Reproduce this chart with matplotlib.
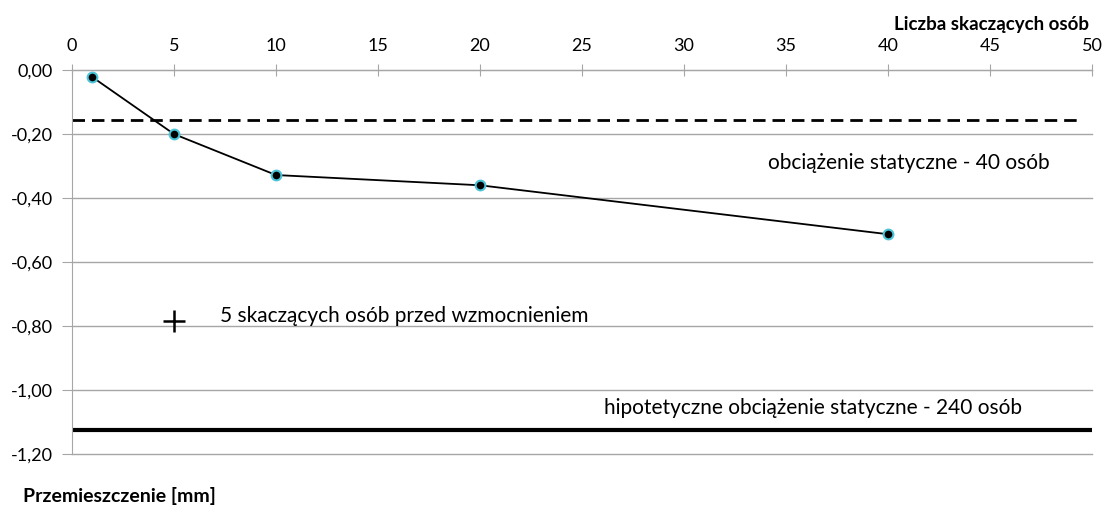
import matplotlib.pyplot as plt
import numpy as np

plt.rcParams['font.family'] = ['Lato', 'DejaVu Sans']

# data
jumpers = [1, 5, 10, 20, 40]
displacement = [-0.022, -0.20, -0.328, -0.36, -0.513]
static_40 = -0.156
static_240 = -1.125
before_x = [5]
before_y = [-0.785]

x_ticks = np.arange(0, 51, 5)
y_ticks = np.arange(-1.2, 0.01, 0.2)

fig = plt.figure(figsize=(11.03, 5.08), dpi=100)
ax = fig.add_axes([0.0653, 0.1063, 0.9247, 0.7557])

grey = "#a6a6a6"
ax.set_xlim(0, 50)
ax.set_ylim(-1.2, 0)
ax.set_xticks(x_ticks)
ax.set_yticks(y_ticks)
ax.set_yticklabels([f"{v:.2f}".replace(".", ",").replace("-0,00", "0,00") for v in y_ticks])
ax.xaxis.tick_top()
ax.tick_params(axis="x", direction="inout", length=9, color=grey, labelsize=13, pad=7)
ax.tick_params(axis="y", direction="out", length=7, color=grey, labelsize=13, pad=7)
for side in ["right", "bottom"]:
    ax.spines[side].set_visible(False)
for side in ["top", "left"]:
    ax.spines[side].set_color(grey)
ax.grid(axis="y", color=grey, linewidth=1)
for gl in ax.get_ygridlines():
    gl.set_clip_on(False)
ax.set_axisbelow(True)

ax.plot([0, 49.4], [static_40, static_40], color="black", linestyle=(0, (4.5, 2.5)), linewidth=2)
ax.axhline(static_240, color="black", linewidth=3)
ax.plot(jumpers, displacement, color="black", linewidth=1.3, marker="o",
        markersize=7, markerfacecolor="black", markeredgecolor="#4bc3d8", markeredgewidth=1.5)
ax.plot(before_x, before_y, marker="+", color="black", markersize=16, markeredgewidth=1.8,
        linestyle="none")

ax.text(34.1, -0.29, "obciążenie statyczne - 40 osób", fontsize=15, va="center")
ax.text(7.25, -0.77, "5 skaczących osób przed wzmocnieniem", fontsize=15, va="center")
ax.text(26.1, -1.056, "hipotetyczne obciążenie statyczne - 240 osób", fontsize=15, va="center")

fig.text(0.987, 0.951, "Liczba skaczących osób", fontsize=13.5, fontweight="bold", ha="right", va="center")
fig.text(0.021, 0.024, "Przemieszczenie [mm]", fontsize=14, fontweight="bold", ha="left", va="center")

fig.savefig("out.png", dpi=100)
